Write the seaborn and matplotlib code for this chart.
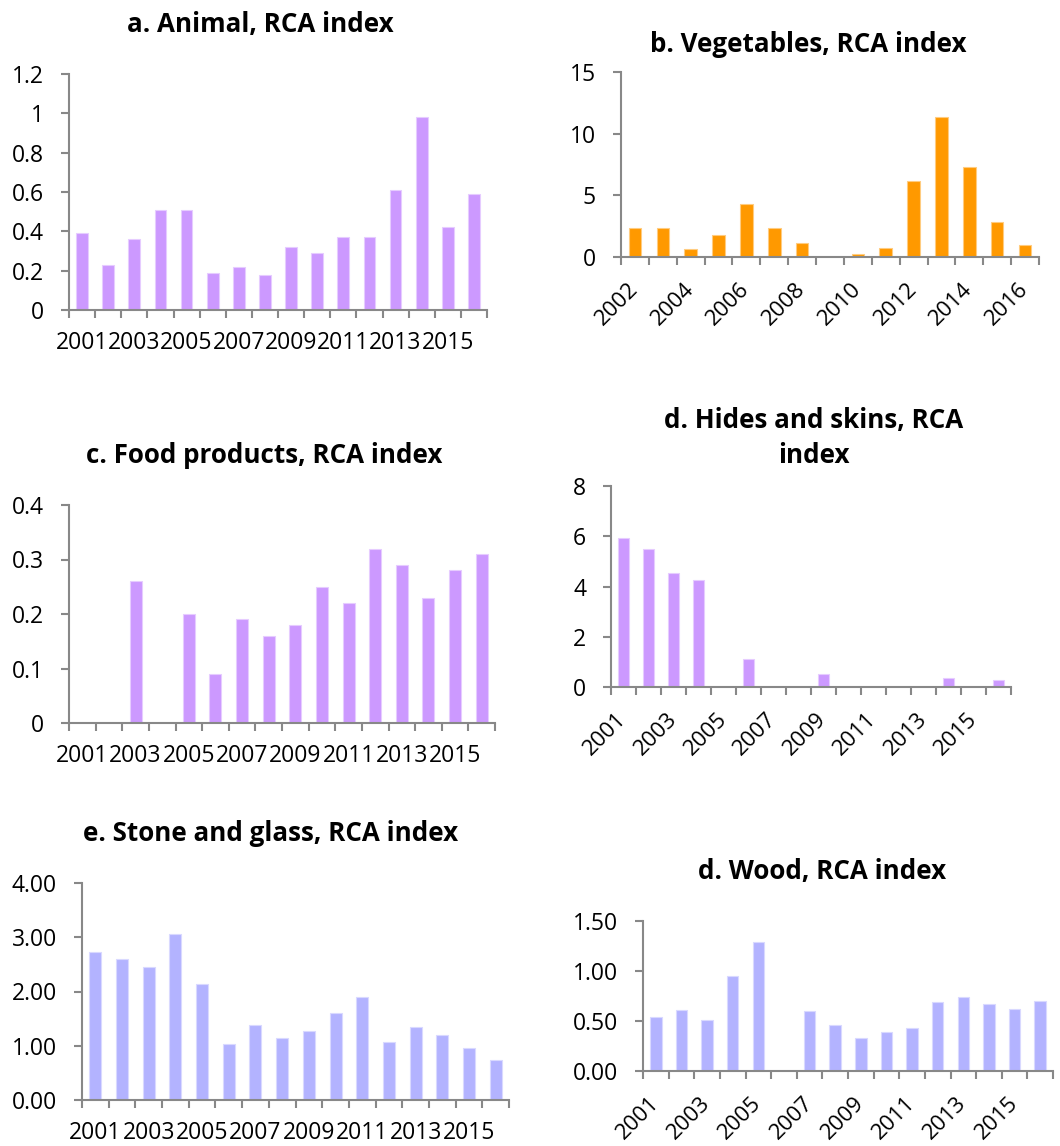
import numpy as np
import pandas as pd
import matplotlib
matplotlib.use("Agg")
import matplotlib.pyplot as plt
import matplotlib.transforms as mtransforms
import seaborn as sns

# ---- data -------------------------------------------------------------
years_01_16 = [str(y) for y in range(2001, 2017)]
years_02_16 = [str(y) for y in range(2002, 2017)]

animal = [0.39, 0.23, 0.36, 0.51, 0.51, 0.19, 0.22, 0.18,
          0.32, 0.29, 0.37, 0.37, 0.61, 0.98, 0.42, 0.59]
vegetables = [2.33, 2.33, 0.68, 1.76, 4.28, 2.36, 1.16, 0.0,
              0.24, 0.76, 6.15, 11.32, 7.28, 2.82, 0.97]
food = [0.0, 0.0, 0.26, 0.0, 0.20, 0.09, 0.19, 0.16,
        0.18, 0.25, 0.22, 0.32, 0.29, 0.23, 0.28, 0.31]
hides = [5.93, 5.48, 4.53, 4.26, 0.0, 1.11, 0.0, 0.0,
         0.50, 0.0, 0.0, 0.0, 0.0, 0.34, 0.0, 0.29]
stone = [2.72, 2.59, 2.45, 3.06, 2.13, 1.04, 1.38, 1.15,
         1.27, 1.61, 1.90, 1.06, 1.34, 1.19, 0.95, 0.74]
wood = [0.545, 0.615, 0.515, 0.955, 1.29, 0.0, 0.60, 0.46,
        0.33, 0.39, 0.43, 0.69, 0.745, 0.67, 0.625, 0.705]

titles = ["a. Animal, RCA index", "b. Vegetables, RCA index",
          "c. Food products, RCA index", "d. Hides and skins, RCA\nindex",
          "e. Stone and glass, RCA index", "d. Wood, RCA index"]

yticks_a = [0, 0.2, 0.4, 0.6, 0.8, 1.0, 1.2]
ylabels_a = ["0", "0.2", "0.4", "0.6", "0.8", "1", "1.2"]
yticks_b = [0, 5, 10, 15]
ylabels_b = ["0", "5", "10", "15"]
yticks_c = [0, 0.1, 0.2, 0.3, 0.4]
ylabels_c = ["0", "0.1", "0.2", "0.3", "0.4"]
yticks_d = [0, 2, 4, 6, 8]
ylabels_d = ["0", "2", "4", "6", "8"]
yticks_e = [0, 1, 2, 3, 4]
ylabels_e = ["0.00", "1.00", "2.00", "3.00", "4.00"]
yticks_f = [0, 0.5, 1.0, 1.5]
ylabels_f = ["0.00", "0.50", "1.00", "1.50"]

PURPLE = "#CC99FF"
ORANGE = "#FF9900"
LAVENDER = "#B3B3FF"
AXIS_GREY = "#888888"

# ---- style ------------------------------------------------------------
sns.set_theme(style="white")
plt.rcParams["font.family"] = ["Open Sans", "DejaVu Sans"]

W, H = 1060, 1146
fig = plt.figure(figsize=(W / 100, H / 100), dpi=100)
fig.patch.set_facecolor("white")

TICK_FS = 16.5
ROT_FS = 16
TITLE_FS = 18.7


def px_axes(left, top, right, bottom):
    return fig.add_axes([left / W, 1 - bottom / H, (right - left) / W, (bottom - top) / H])


def draw_panel(box, years, values, color, edge, yticks, ylabels, rotate):
    ax = px_axes(*box)
    df = pd.DataFrame({"year": years, "rca": values})
    sns.barplot(data=df, x="year", y="rca", order=years, color=color,
                saturation=1, width=0.45, errorbar=None, ax=ax,
                edgecolor=edge, linewidth=0.8)
    n = len(years)
    ax.set_xlim(-0.5, n - 0.5)
    ax.set_ylim(yticks[0], yticks[-1])
    ax.set_xlabel("")
    ax.set_ylabel("")
    for side in ("top", "right"):
        ax.spines[side].set_visible(False)
    for side in ("left", "bottom"):
        ax.spines[side].set_color(AXIS_GREY)
        ax.spines[side].set_linewidth(1.5)
    ax.set_yticks(yticks)
    ax.set_yticklabels(ylabels)
    ax.tick_params(axis="y", which="major", length=6, width=1.5,
                   color=AXIS_GREY, pad=12, labelsize=TICK_FS,
                   labelcolor="black", direction="out", left=True)
    # category labels on every other bar, tick marks on category borders
    pos = np.arange(0, n, 2)
    ax.set_xticks(pos)
    if rotate:
        ax.set_xticklabels([years[i] for i in pos], rotation=45, ha="right",
                           va="center", rotation_mode="anchor")
        offs = mtransforms.ScaledTranslation(5 / 100, 0, fig.dpi_scale_trans)
        for lab in ax.get_xticklabels():
            lab.set_transform(lab.get_transform() + offs)
        xpad, xfs = 21, ROT_FS
    else:
        ax.set_xticklabels([years[i] for i in pos])
        xpad, xfs = 15, TICK_FS
    ax.tick_params(axis="x", which="major", length=0, pad=xpad,
                   labelsize=xfs, labelcolor="black", bottom=True)
    ax.set_xticks(np.arange(-0.5, n, 1), minor=True)
    ax.tick_params(axis="x", which="minor", length=6, width=1.5,
                   color=AXIS_GREY, direction="out", bottom=True)
    ax.grid(False)
    return ax


draw_panel((69, 74, 487, 310), years_01_16, animal, PURPLE, "#E6CCFF",
           yticks_a, ylabels_a, False)
draw_panel((621, 72, 1039, 257), years_02_16, vegetables, ORANGE, "#FFCC80",
           yticks_b, ylabels_b, True)
draw_panel((69, 505, 495, 723), years_01_16, food, PURPLE, "#E6CCFF",
           yticks_c, ylabels_c, False)
draw_panel((611, 486, 1011, 687), years_01_16, hides, PURPLE, "#E6CCFF",
           yticks_d, ylabels_d, True)
draw_panel((82, 883, 509, 1100), years_01_16, stone, LAVENDER, "#D9D9FF",
           yticks_e, ylabels_e, False)
draw_panel((643, 921, 1053, 1071), years_01_16, wood, LAVENDER, "#D9D9FF",
           yticks_f, ylabels_f, True)

# panel titles (centre x, baseline y in pixels)
title_pos = [(260, 32), (808, 52), (264, 463), (814, 463), (271, 841), (822, 879)]
for (tx, ty), t in zip(title_pos, titles):
    fig.text(tx / W, 1 - ty / H, t, ha="center", va="baseline",
             fontsize=TITLE_FS, fontweight="bold", color="black",
             linespacing=1.4, multialignment="center")

fig.savefig("out.png", dpi=100, facecolor="white")
